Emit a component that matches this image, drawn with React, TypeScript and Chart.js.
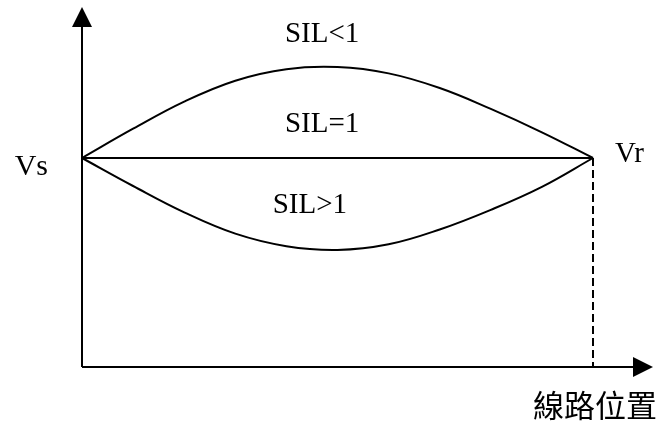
import React, { useEffect, useRef } from "react";
import { Chart, registerables } from "chart.js";

Chart.register(...registerables);

// position along the line (% of length), voltage (p.u.)
const positions = [0, 10, 20, 30, 40, 50, 60, 70, 80, 90, 100];
const silLessThan1 = [1.0, 1.14, 1.27, 1.37, 1.425, 1.435, 1.405, 1.335, 1.235, 1.123, 1.0];
const silEqual1 = [1, 1, 1, 1, 1, 1, 1, 1, 1, 1, 1];
const silGreaterThan1 = [1.0, 0.866, 0.74, 0.638, 0.578, 0.56, 0.587, 0.658, 0.752, 0.862, 1.0];
const receiverDrop = [
  { x: 100, y: 1.0 },
  { x: 100, y: 0 },
];

const X_MAX = 111.74;
const Y_MAX = 1.7225;

type Label = { text: string; x: number; y: number; align: CanvasTextAlign; baseline: CanvasTextBaseline; font: string };
const labels: Label[] = [
  { text: "SIL<1", x: 47, y: 1.555, align: "center", baseline: "alphabetic", font: "29px 'Liberation Serif'" },
  { text: "SIL=1", x: 47, y: 1.124, align: "center", baseline: "alphabetic", font: "29px 'Liberation Serif'" },
  { text: "SIL>1", x: 44.6, y: 0.737, align: "center", baseline: "alphabetic", font: "29px 'Liberation Serif'" },
  { text: "Vs", x: -6.65, y: 0.919, align: "right", baseline: "alphabetic", font: "30px 'Liberation Serif'" },
  { text: "Vr", x: 104.3, y: 0.981, align: "left", baseline: "alphabetic", font: "29px 'Liberation Serif'" },
  { text: "線路位置", x: 112.5, y: -0.11, align: "right", baseline: "top", font: "31px 'Noto Sans CJK TC'" },
];

const toPts = (vals: number[]) => vals.map((v, i) => ({ x: positions[i], y: v }));

const axesPlugin = {
  id: "arrowAxes",
  afterDatasetsDraw(chart: any) {
    const { ctx, scales } = chart;
    const xs = scales.x;
    const ys = scales.y;
    const x0 = xs.getPixelForValue(0);
    const y0 = ys.getPixelForValue(0);
    const xEnd = xs.getPixelForValue(X_MAX);
    const yEnd = ys.getPixelForValue(Y_MAX);
    ctx.save();
    ctx.strokeStyle = "#000";
    ctx.fillStyle = "#000";
    ctx.lineWidth = 2;
    ctx.beginPath();
    ctx.moveTo(x0, y0);
    ctx.lineTo(x0, yEnd + 18);
    ctx.moveTo(x0, y0);
    ctx.lineTo(xEnd - 18, y0);
    ctx.stroke();
    // arrow heads
    ctx.beginPath();
    ctx.moveTo(x0, yEnd);
    ctx.lineTo(x0 - 10, yEnd + 20);
    ctx.lineTo(x0 + 10, yEnd + 20);
    ctx.closePath();
    ctx.fill();
    ctx.beginPath();
    ctx.moveTo(xEnd, y0);
    ctx.lineTo(xEnd - 20, y0 - 10);
    ctx.lineTo(xEnd - 20, y0 + 10);
    ctx.closePath();
    ctx.fill();
    // labels
    for (const l of labels) {
      ctx.font = l.font;
      ctx.textAlign = l.align;
      ctx.textBaseline = l.baseline;
      ctx.fillText(l.text, xs.getPixelForValue(l.x), ys.getPixelForValue(l.y));
    }
    ctx.restore();
  },
};

export default function App() {
  const ref = useRef<HTMLCanvasElement>(null);
  useEffect(() => {
    if (!ref.current) return;
    const common = {
      borderColor: "#000",
      borderWidth: 2,
      pointRadius: 0,
      showLine: true,
      fill: false,
      clip: false as any,
    };
    const chart = new Chart(ref.current, {
      type: "scatter",
      data: {
        datasets: [
          { ...common, data: toPts(silLessThan1), tension: 0.4 },
          { ...common, data: toPts(silEqual1), tension: 0 },
          { ...common, data: toPts(silGreaterThan1), tension: 0.4 },
          { ...common, data: receiverDrop, borderDash: [8, 4], borderWidth: 2 },
        ] as any,
      },
      options: {
        animation: false,
        responsive: false,
        events: [],
        layout: { padding: { left: 82, right: 6, top: 7, bottom: 56 } },
        plugins: { legend: { display: false }, tooltip: { enabled: false } },
        scales: {
          x: { type: "linear", min: 0, max: X_MAX, display: false },
          y: { type: "linear", min: 0, max: Y_MAX, display: false },
        },
      },
      plugins: [axesPlugin],
    });
    return () => chart.destroy();
  }, []);
  return (
    <div style={{ position: "absolute", left: 0, top: 0, width: 659, height: 423, background: "#fff" }}>
      <canvas ref={ref} width={659} height={423} style={{ width: 659, height: 423 }} />
    </div>
  );
}
